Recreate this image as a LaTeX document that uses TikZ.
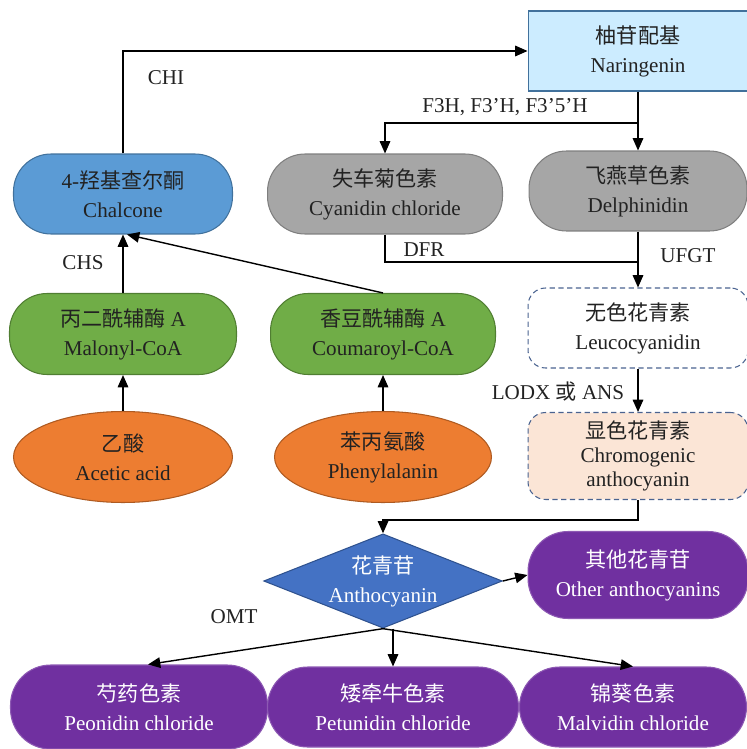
\documentclass[tikz,border=0pt]{standalone}
\usepackage{fontspec}
\setmainfont{Liberation Serif}
\newfontfamily\cjk{Noto Sans CJK SC}
\usetikzlibrary{arrows.meta,shapes.geometric}

\definecolor{skyfill}{HTML}{CCECFF}
\definecolor{bluefill}{HTML}{5B9BD5}
\definecolor{blueline}{HTML}{41719C}
\definecolor{grayfill}{HTML}{A6A6A6}
\definecolor{grayline}{HTML}{7F7F7F}
\definecolor{greenfill}{HTML}{70AD47}
\definecolor{greenline}{HTML}{507E32}
\definecolor{orangefill}{HTML}{ED7D31}
\definecolor{orangeline}{HTML}{AE5A21}
\definecolor{peachfill}{HTML}{FBE5D6}
\definecolor{dashline}{HTML}{4A6390}
\definecolor{diamondfill}{HTML}{4472C4}
\definecolor{diamondline}{HTML}{2F528F}
\definecolor{purplefill}{HTML}{7030A0}
\definecolor{inkgray}{HTML}{222222}

\tikzset{aglycone/.style={fill=skyfill, draw=blueline, minimum width=4.4cm, minimum height=1.6cm}}
\tikzset{ chalcone/.style={fill=bluefill, draw=blueline, rounded corners=0.75cm, minimum width=4.38cm, minimum height=1.6cm}}
\tikzset{ anthocyanidin/.style={fill=grayfill, draw=grayline, rounded corners=0.75cm, minimum height=1.6cm}}
\tikzset{ coa/.style={fill=greenfill, draw=greenline, rounded corners=0.75cm, minimum height=1.62cm}}
\tikzset{ acid/.style={ellipse, fill=orangefill, draw=orangeline, minimum height=1.82cm}}
\tikzset{ leuco/.style={draw=dashline, dash pattern=on 3pt off 2pt, rounded corners=0.35cm, minimum width=4.4cm}}
\tikzset{ glycoside/.style={diamond, aspect=2.53, fill=diamondfill, draw=diamondline, text=white, inner sep=0pt, minimum width=4.66cm, minimum height=1.84cm}}
\tikzset{ product/.style={fill=purplefill, draw=purplefill!80!white, text=white, rounded corners=0.8cm, minimum height=1.6cm}}
\tikzset{ enzyme/.style={inner sep=1pt}}

\begin{document}
\begin{tikzpicture}[x=0.02cm, y=-0.02cm, line width=0.8pt, >={Triangle[length=7pt,width=6pt]},
  every node/.style={align=center, text=inkgray, font=\fontsize{12}{16.5}\selectfont, line width=0.6pt}]
  \useasboundingbox (0,0) rectangle (746,749);

  % upper part
  \node[aglycone] (Naringenin) at (638,51) {{\cjk 柚苷配基}\\Naringenin};
  \node[chalcone] (Chalcone) at (123,194) {4-{\cjk 羟基查尔酮}\\Chalcone};
  \node[anthocyanidin, minimum width=4.7cm] (Cyanidin) at (385,194) {{\cjk 失车菊色素}\\Cyanidin chloride};
  \node[anthocyanidin, minimum width=4.36cm] (Delphinidin) at (638,191) {{\cjk 飞燕草色素}\\Delphinidin};

  \node[coa, minimum width=4.54cm] (Malonyl) at (123,334) {{\cjk 丙二酰辅酶} A\\Malonyl-CoA};
  \node[coa, minimum width=4.5cm] (Coumaroyl) at (383,334) {{\cjk 香豆酰辅酶} A\\Coumaroyl-CoA};
  \node[acid, minimum width=4.38cm] (Acetic) at (123,457) {{\cjk 乙酸}\\Acetic acid};
  \node[acid, minimum width=4.34cm] (Phenylalanin) at (383,457) {{\cjk 苯丙氨酸}\\Phenylalanin};

  \node[leuco, fill=white, minimum height=1.6cm] (Leucocyanidin) at (638,328) {{\cjk 无色花青素}\\Leucocyanidin};
  \node[leuco, fill=peachfill, minimum height=1.74cm, font=\fontsize{12}{13.6}\selectfont] (Chromogenic) at (638,456) {{\cjk 显色花青素}\\Chromogenic\\anthocyanin};

  % lower part
  \node[glycoside] (Anthocyanin) at (383,581) {{\cjk 花青苷}\\Anthocyanin};
  \node[product, minimum width=4.4cm, minimum height=1.74cm] (Other) at (638,575) {{\cjk 其他花青苷}\\Other anthocyanins};
  \node[product, minimum width=5.14cm, minimum height=1.68cm] (Peonidin) at (139,707) {{\cjk 芍药色素}\\Peonidin chloride};
  \node[product, minimum width=5.02cm] (Petunidin) at (393,707) {{\cjk 矮牵牛色素}\\Petunidin chloride};
  \node[product, minimum width=4.54cm] (Malvidin) at (633,707) {{\cjk 锦葵色素}\\Malvidin chloride};

  % enzymes
  \node[enzyme] (CHI) at (166,78) {CHI};
  \node[enzyme] (CHS) at (83,263) {CHS};
  \node[enzyme] (F3H) at (505,107) {F3H, F3’H, F3’5’H};
  \node[enzyme] (DFR) at (424,250) {DFR};
  \node[enzyme] (UFGT) at (688,256) {UFGT};
  \node[enzyme] (LODX) at (558,392) {LODX {\cjk 或} ANS};
  \node[enzyme] (OMT) at (234,617) {OMT};

  \coordinate (Fork) at (638,123);
  \coordinate (Join) at (638,262);
  \coordinate (Bend) at (638,520);

  \draw[->] (Chalcone.north) |- (Naringenin.west);
  \draw[->] (Naringenin.south) to (Delphinidin.north);
  \draw[->] (Fork) -| (Cyanidin.north);

  \draw (Cyanidin.south) |- (Join);
  \draw[->] (Delphinidin.south) to (Leucocyanidin.north);
  \draw[->] (Leucocyanidin.south) to (Chromogenic.north);
  \draw[->] (Chromogenic.south) -- (Bend) -| (Anthocyanin.north);

  \draw[->] (Malonyl.north) to (Chalcone.south);
  \draw[->] (Coumaroyl.north) to ([xshift=0.08cm]Chalcone.south);
  \draw[->] (Acetic.north) to (Malonyl.south);
  \draw[->] (Phenylalanin.north) to (Coumaroyl.south);

  \draw[->] (Anthocyanin.east) to (Other.west);
  \draw[->] (Anthocyanin.south) to ([xshift=0.18cm]Peonidin.north);
  \draw[->] (Anthocyanin.south -| Petunidin.north) to (Petunidin.north);
  \draw[->] (Anthocyanin.south) to (Malvidin.north);

\end{tikzpicture}
\end{document}
